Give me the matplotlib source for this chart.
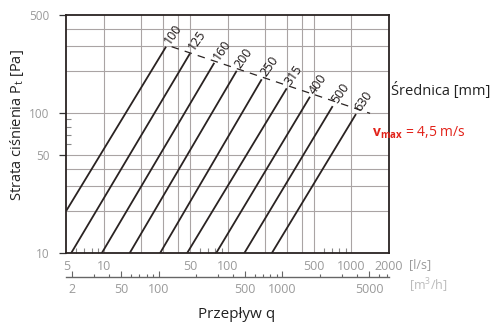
import matplotlib
matplotlib.use('Agg')
import matplotlib.pyplot as plt

plt.rcParams['font.family'] = ['Open Sans', 'DejaVu Sans']
plt.rcParams['mathtext.fontset'] = 'custom'
plt.rcParams['mathtext.rm'] = 'Open Sans'
plt.rcParams['mathtext.bf'] = 'Open Sans:bold'
plt.rcParams['mathtext.it'] = 'Open Sans:italic'

# ---- data ----
diameters = ['100', '125', '160', '200', '250', '315', '400', '500', '630']
q_start = [5.0, 5.46, 9.65, 16.2, 28.5, 47.1, 80.8, 136.4, 227.4]
p_start = [20.1, 10, 10, 10, 10, 10, 10, 10, 10]
q_end = [31.9, 49.8, 78.2, 118.6, 188.8, 300.6, 463, 706, 1089]
p_end = [297, 266, 228, 200, 174, 150, 130.7, 112, 98.4]

vmax_q = [35.4, 1414]
vmax_p = [297, 99.5]

x_ticks = [5, 10, 50, 100, 500, 1000, 2000]
x_ticklabels = ['5', '10', '50', '100', '500', '1000', '2000']
x_grid = [10, 20, 30, 40, 50, 100, 200, 300, 400, 500, 1000]
x_minor = [6, 7, 8, 9, 60, 70, 80, 90, 600, 700, 800, 900]
y_ticks = [10, 50, 100, 500]
y_ticklabels = ['10', '50', '100', '500']
y_grid = [20, 30, 40, 50, 100, 200, 300, 400]
y_minor = [60, 70, 80, 90]
m3h_ticks = [20, 50, 100, 500, 1000, 5000]
m3h_ticklabels = ['2', '50', '100', '500', '1000', '5000']
m3h_minor = [30, 40, 60, 70, 80, 90, 200, 300, 400, 600, 700, 800, 900,
             2000, 3000, 4000, 6000, 7000]

W, H = 500, 334
fig = plt.figure(figsize=(W / 100, H / 100), dpi=100)

def fx(px):
    return px / W

def fy(py):
    return 1 - py / H

L, R, T, B = 66.3, 388.7, 15.0, 253.3
ax = fig.add_axes([fx(L), fy(B), fx(R) - fx(L), fy(T) - fy(B)])
ax.set_xscale('log')
ax.set_yscale('log')
ax.set_xlim(5, 2000)
ax.set_ylim(10, 500)

grid_c = '#aaa4a4'
for g in x_grid:
    ax.axvline(g, color=grid_c, lw=0.8, zorder=1)
for g in y_grid:
    ax.axhline(g, color=grid_c, lw=0.8, zorder=1)

line_c = '#2a2322'
for d, q0, p0, q1, p1 in zip(diameters, q_start, p_start, q_end, p_end):
    ax.plot([q0, q1], [p0, p1], color=line_c, lw=1.3, zorder=3,
            solid_capstyle='butt')
    ax.annotate(d, xy=(q1, p1), xytext=(1.0, 3.0), textcoords='offset points',
                rotation=55, rotation_mode='anchor', ha='left', va='center',
                fontsize=9, color='#1e1818')

ax.plot(vmax_q, vmax_p, color=line_c, lw=0.9, linestyle=(0, (6, 5)),
        zorder=3, clip_on=False)

ax.set_xticks(x_ticks)
ax.set_xticklabels(x_ticklabels)
ax.set_xticks(x_minor, minor=True)
ax.set_xticklabels([], minor=True)
ax.set_yticks(y_ticks)
ax.set_yticklabels(y_ticklabels)
ax.set_yticks(y_minor, minor=True)
ax.set_yticklabels([], minor=True)

tick_lab_c = '#9a9a9a'
ax.tick_params(axis='x', which='major', length=0, pad=5, labelsize=9,
               labelcolor=tick_lab_c)
ax.tick_params(axis='x', which='minor', direction='in', length=3.5,
               width=0.8, color='#888888')
ax.tick_params(axis='y', which='major', direction='out', length=5, width=0.9,
               pad=7, labelsize=8.5, labelcolor=tick_lab_c, color='#333333')
ax.tick_params(axis='y', which='minor', direction='in', length=3.5,
               width=0.8, color='#888888')

for s in ax.spines.values():
    s.set_color('#2a2322')
    s.set_linewidth(1.3)
    s.set_zorder(4)

# secondary axis m3/h
sec_y = 277.3
ax2 = fig.add_axes([fx(L), fy(sec_y), fx(R) - fx(L), 0.0001])
ax2.set_xscale('log')
ax2.set_xlim(5 * 3.6, 2000 * 3.6)
ax2.patch.set_visible(False)
for k in ['left', 'right', 'top']:
    ax2.spines[k].set_visible(False)
ax2.spines['bottom'].set_color('#666666')
ax2.spines['bottom'].set_linewidth(1.0)
ax2.set_yticks([])
ax2.set_xticks(m3h_ticks)
ax2.set_xticklabels(m3h_ticklabels)
ax2.set_xticks(m3h_minor, minor=True)
ax2.set_xticklabels([], minor=True)
ax2.tick_params(axis='x', which='major', direction='in', length=4.5,
                width=0.8, color='#666666', pad=4, labelsize=9,
                labelcolor=tick_lab_c)
ax2.tick_params(axis='x', which='minor', direction='in', length=2.5,
                width=0.8, color='#666666')

# texts
fig.text(fx(409), fy(265), '[l/s]', ha='left', va='center', fontsize=9,
         color='#9a9a9a')
fig.text(fx(409), fy(286), '[m$^{3}$/h]', ha='left', va='center',
         fontsize=9, color='#bbbbbb')
fig.text(fx(237), fy(315), 'Przepływ q', ha='center', va='center',
         fontsize=11, color='#222222')
fig.text(fx(17), fy(125), 'Strata ciśnienia P$_{\\mathregular{t}}$ [Pa]',
         ha='center', va='center', rotation=90, fontsize=10.5, color='#222222')
fig.text(fx(391), fy(91), 'Średnica [mm]', ha='left', va='center',
         fontsize=10.5, color='#222222')
fig.text(fx(372), fy(133), '$\\mathbf{v}_{\\mathbf{max}}$ = 4,5 m/s',
         ha='left', va='center', fontsize=10, color='#e2231a')

fig.savefig('out.png', dpi=100)
